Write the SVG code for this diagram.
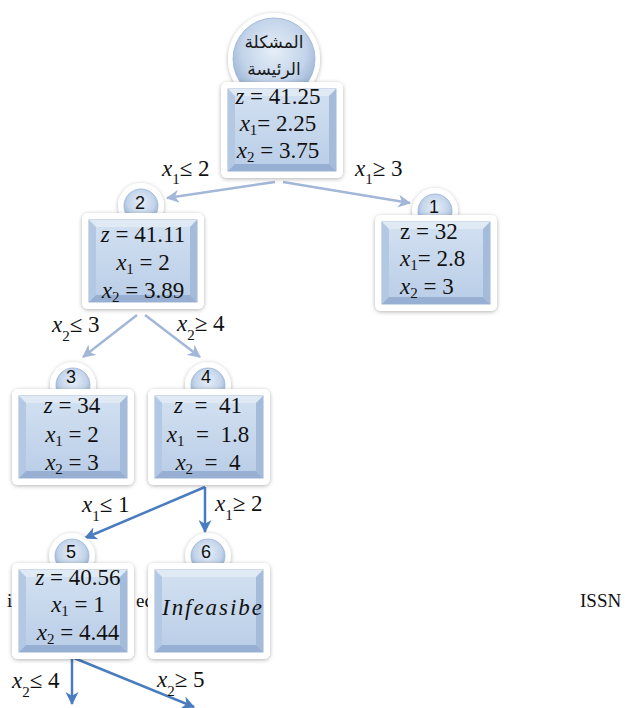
<svg xmlns="http://www.w3.org/2000/svg" width="627" height="708" viewBox="0 0 627 708">
<style>
.m{font-family:"Liberation Serif","DejaVu Serif",serif;font-size:23px;fill:#111}
.c{text-anchor:middle}
.v{font-style:italic}
.sb{font-size:15px}
.el{font-family:"Liberation Serif","DejaVu Serif",serif;font-size:23px;fill:#111}
.num{font-family:"Liberation Sans",Arial,sans-serif;font-size:18px;fill:#111;text-anchor:middle}
.ar{font-family:"DejaVu Sans","Noto Sans",sans-serif;font-size:17px;fill:#1a1a1a;text-anchor:middle}
.bg{font-family:"Liberation Serif",serif;font-size:19px;fill:#111}
.e1{stroke:#a3b7d9;stroke-width:2.5;fill:none}
.e2{stroke:#4a7dbf;stroke-width:2.5;fill:none}
.ring{fill:#fff;filter:url(#sh)}
.dot{fill:url(#rg);stroke:#9ab2d3;stroke-width:0.8}
</style>
<defs>
<filter id="sh" x="-20%" y="-20%" width="140%" height="140%">
<feDropShadow dx="0" dy="1" stdDeviation="2" flood-color="#000" flood-opacity="0.3"/>
</filter>
<radialGradient id="rg" cx="50%" cy="40%" r="60%">
<stop offset="0" stop-color="#e6eef7"/>
<stop offset="0.65" stop-color="#c3d4ea"/>
<stop offset="1" stop-color="#98b1d3"/>
</radialGradient>
<linearGradient id="face" x1="0" y1="0" x2="0" y2="1">
<stop offset="0" stop-color="#d3e1f1"/>
<stop offset="1" stop-color="#b9cde7"/>
</linearGradient>
<marker id="a1" viewBox="0 0 12 12" refX="11" refY="6" markerWidth="13" markerHeight="13" markerUnits="userSpaceOnUse" orient="auto">
<path d="M0,0 L12,6 L0,12 L3.5,6 z" fill="#a3b7d9"/>
</marker>
<marker id="a2" viewBox="0 0 12 12" refX="11" refY="6" markerWidth="13" markerHeight="13" markerUnits="userSpaceOnUse" orient="auto">
<path d="M0,0 L12,6 L0,12 L3.5,6 z" fill="#4a7dbf"/>
</marker>
<g id="box">
<rect x="0" y="0" width="122" height="96" rx="6" fill="#fff" filter="url(#sh)"/>
<rect x="7" y="7" width="108" height="82" fill="url(#face)" stroke="#9db4d3" stroke-width="1"/>
<polygon points="7,7 115,7 108,14 14,14" fill="#e0eaf5"/>
<polygon points="7,7 14,14 14,82 7,89" fill="#b3c8e2"/>
<polygon points="115,7 115,89 108,82 108,14" fill="#a4bbd9"/>
<polygon points="7,89 14,82 108,82 115,89" fill="#97afd2"/>
</g>
</defs>
<rect width="627" height="708" fill="#fff"/>

<g id="background-text">
<text class="bg" x="7" y="607">i</text>
<text class="bg" x="136" y="607">ec</text>
<text class="bg" x="580" y="607">ISSN</text>
</g>

<g id="connectors">
<line class="e1" x1="275" y1="182" x2="167" y2="198" marker-end="url(#a1)"/>
<line class="e1" x1="283" y1="182" x2="410" y2="203" marker-end="url(#a1)"/>
<line class="e1" x1="137" y1="315" x2="83" y2="357" marker-end="url(#a1)"/>
<line class="e1" x1="145" y1="315" x2="200" y2="357" marker-end="url(#a1)"/>
<line class="e2" x1="205" y1="487" x2="85" y2="538" marker-end="url(#a2)"/>
<line class="e2" x1="205" y1="487" x2="205" y2="532" marker-end="url(#a2)"/>
<line class="e2" x1="72" y1="658" x2="72" y2="704" marker-end="url(#a2)"/>
<line class="e2" x1="74" y1="658" x2="194" y2="707" marker-end="url(#a2)"/>
<text class="el" x="162" y="176"><tspan class="v">x</tspan><tspan class="sb" dy="8">1</tspan><tspan dy="-8">≤ 2</tspan></text>
<text class="el" x="355" y="176"><tspan class="v">x</tspan><tspan class="sb" dy="8">1</tspan><tspan dy="-8">≥ 3</tspan></text>
<text class="el" x="52" y="332"><tspan class="v">x</tspan><tspan class="sb" dy="9">2</tspan><tspan dy="-9">≤ 3</tspan></text>
<text class="el" x="177" y="331"><tspan class="v">x</tspan><tspan class="sb" dy="9">2</tspan><tspan dy="-9">≥ 4</tspan></text>
<text class="el" x="82" y="512"><tspan class="v">x</tspan><tspan class="sb" dy="9">1</tspan><tspan dy="-9">≤ 1</tspan></text>
<text class="el" x="215" y="511"><tspan class="v">x</tspan><tspan class="sb" dy="9">1</tspan><tspan dy="-9">≥ 2</tspan></text>
<text class="el" x="12" y="688"><tspan class="v">x</tspan><tspan class="sb" dy="9">2</tspan><tspan dy="-9">≤ 4</tspan></text>
<text class="el" x="157" y="687"><tspan class="v">x</tspan><tspan class="sb" dy="9">2</tspan><tspan dy="-9">≥ 5</tspan></text>
</g>

<g id="node-root">
<circle class="ring" cx="274" cy="59" r="46"/>
<circle class="dot" cx="274" cy="59" r="41"/>
<text class="ar" x="274" y="48">المشكلة</text>
<text class="ar" x="274" y="75">الرئيسة</text>
<use href="#box" x="221" y="82"/>
<text class="m c" x="278" y="104"><tspan class="v">z</tspan> = 41.25</text>
<text class="m c" x="278" y="131"><tspan class="v">x</tspan><tspan class="sb" dy="4">1</tspan><tspan dy="-4">= 2.25</tspan></text>
<text class="m c" x="278" y="158"><tspan class="v">x</tspan><tspan class="sb" dy="4">2</tspan><tspan dy="-4"> = 3.75</tspan></text>
</g>

<g id="node-2">
<circle class="ring" cx="141" cy="206" r="23"/>
<circle class="dot" cx="141" cy="206" r="17"/>
<text class="num" x="140" y="209">2</text>
<use href="#box" x="82" y="213"/>
<text class="m c" x="143" y="242"><tspan class="v">z</tspan> = 41.11</text>
<text class="m c" x="143" y="270"><tspan class="v">x</tspan><tspan class="sb" dy="4">1</tspan><tspan dy="-4"> = 2</tspan></text>
<text class="m c" x="143" y="298"><tspan class="v">x</tspan><tspan class="sb" dy="4">2</tspan><tspan dy="-4"> = 3.89</tspan></text>
</g>

<g id="node-1">
<circle class="ring" cx="435" cy="211" r="23"/>
<circle class="dot" cx="435" cy="211" r="17"/>
<text class="num" x="434" y="213">1</text>
<use href="#box" x="375" y="215"/>
<text class="m" x="400" y="239">z = 32</text>
<text class="m" x="400" y="266"><tspan class="v">x</tspan><tspan class="sb" dy="4">1</tspan><tspan dy="-4">= 2.8</tspan></text>
<text class="m" x="400" y="294"><tspan class="v">x</tspan><tspan class="sb" dy="4">2</tspan><tspan dy="-4"> = 3</tspan></text>
</g>

<g id="node-3">
<circle class="ring" cx="73" cy="385" r="23"/>
<circle class="dot" cx="73" cy="385" r="17"/>
<text class="num" x="71" y="383">3</text>
<use href="#box" x="12" y="389"/>
<text class="m c" x="72" y="413"><tspan class="v">z</tspan> = 34</text>
<text class="m c" x="72" y="442"><tspan class="v">x</tspan><tspan class="sb" dy="4">1</tspan><tspan dy="-4"> = 2</tspan></text>
<text class="m c" x="72" y="470"><tspan class="v">x</tspan><tspan class="sb" dy="4">2</tspan><tspan dy="-4"> = 3</tspan></text>
</g>

<g id="node-4">
<circle class="ring" cx="208" cy="385" r="23"/>
<circle class="dot" cx="208" cy="385" r="17"/>
<text class="num" x="206" y="383">4</text>
<use href="#box" x="148" y="389"/>
<text class="m c" x="208" y="413" xml:space="preserve"><tspan class="v">z</tspan>  =  41</text>
<text class="m c" x="208" y="442" xml:space="preserve"><tspan class="v">x</tspan><tspan class="sb" dy="4">1</tspan><tspan dy="-4">  =  1.8</tspan></text>
<text class="m c" x="208" y="470" xml:space="preserve"><tspan class="v">x</tspan><tspan class="sb" dy="4">2</tspan><tspan dy="-4">  =  4</tspan></text>
</g>

<g id="node-5">
<circle class="ring" cx="72" cy="556" r="23"/>
<circle class="dot" cx="72" cy="556" r="17"/>
<text class="num" x="71" y="558">5</text>
<use href="#box" x="12" y="563"/>
<text class="m c" x="78" y="585"><tspan class="v">z</tspan> = 40.56</text>
<text class="m c" x="78" y="612"><tspan class="v">x</tspan><tspan class="sb" dy="4">1</tspan><tspan dy="-4"> = 1</tspan></text>
<text class="m c" x="78" y="640"><tspan class="v">x</tspan><tspan class="sb" dy="4">2</tspan><tspan dy="-4"> = 4.44</tspan></text>
</g>

<g id="node-6">
<circle class="ring" cx="208" cy="556" r="23"/>
<circle class="dot" cx="208" cy="556" r="17"/>
<text class="num" x="206" y="558">6</text>
<use href="#box" x="148" y="563"/>
<text class="m v" x="162" y="615" textLength="100" lengthAdjust="spacing" font-size="25">Infeasibe</text>
</g>
</svg>
